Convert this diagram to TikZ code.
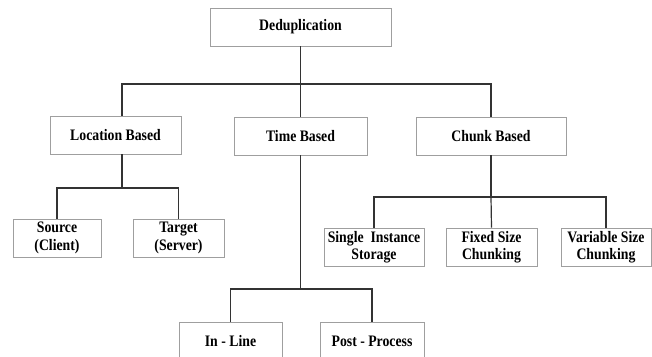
\documentclass[tikz,border=0pt]{standalone}
\usepackage{fontspec}
\setmainfont{Liberation Serif}[FakeStretch=0.86]
\usetikzlibrary{shadows}

\tikzset{
  box/.style={draw=gray!75, line width=0.7pt, fill=white, align=center,
    inner sep=0pt, minimum height=38pt,
    font=\fontsize{16}{17.5}\selectfont\bfseries,
    drop shadow={shadow xshift=1pt, shadow yshift=-1pt, fill=gray!40, opacity=1}},
  tree/.style={draw=black!80, line width=1.2pt},
}

\begin{document}
\begin{tikzpicture}[x=1pt, y=-1pt]

    \useasboundingbox (0,0) rectangle (652,356);
    \clip (0,0) rectangle (652,356);

    % top level
    \node[box, minimum width=181pt] (dedup) at (300.5,27) {Deduplication};

    % second level
    \node[box, minimum width=131pt] (loc)   at (115.5,135) {Location Based};
    \node[box, minimum width=133pt] (time)  at (300.5,136) {Time Based};
    \node[box, minimum width=150pt] (chunk) at (491,136)   {Chunk Based};

    % leaves
    \node[box, minimum width=88pt]  (src)   at (57,238)    {Source\\(Client)};
    \node[box, minimum width=91pt]  (tgt)   at (178.5,238) {Target\\(Server)};
    \node[box, minimum width=100pt] (sis)   at (374,247)   {Single\ \ Instance\\Storage};
    \node[box, minimum width=91pt]  (fixed) at (491.5,247) {Fixed Size\\Chunking};
    \node[box, minimum width=90pt]  (var)   at (606,247)   {Variable Size\\Chunking};
    \node[box, minimum width=103pt] (inl)   at (230.5,341) {In - Line};
    \node[box, minimum width=104pt] (post)  at (372,341)   {Post - Process};

    % branching points
    \coordinate (j0) at (300.5,84);
    \coordinate (j1) at (122,188);
    \coordinate (j2) at (491,197);
    \coordinate (j3) at (300.5,289);

    \draw[tree] (dedup.south) -- (j0);
    \draw[tree] (j0) -| (loc.north -| j1);
    \draw[tree] (j0) -- (time.north);
    \draw[tree] (j0) -| (chunk.north);

    \draw[tree] (loc.south -| j1) -- (j1);
    \draw[tree] (j1) -| (src.north);
    \draw[tree] (j1) -| (tgt.north);

    \draw[tree] (chunk.south) -- (j2);
    \draw[tree] (j2) -| (sis.north);
    \draw[tree] (j2) -- (fixed.north);
    \draw[tree] (j2) -| (var.north);

    \draw[tree] (time.south) -- (j3);
    \draw[tree] (j3) -| (inl.north);
    \draw[tree] (j3) -| (post.north);

\end{tikzpicture}
\end{document}
